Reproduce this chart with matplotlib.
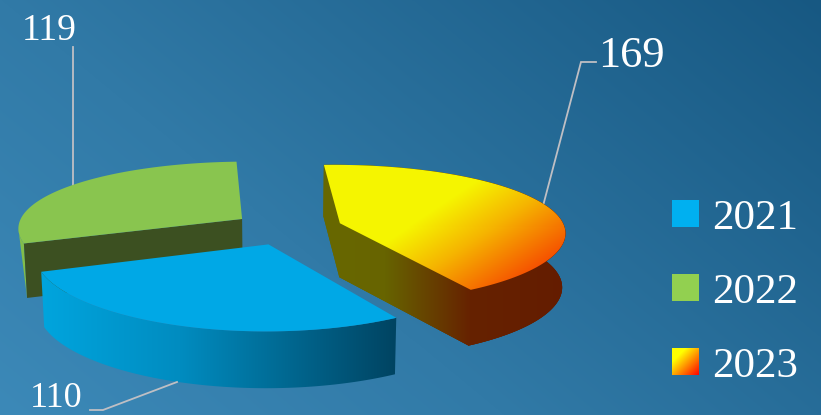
import numpy as np
import matplotlib
matplotlib.use("Agg")
import matplotlib.pyplot as plt
from matplotlib.patches import Polygon, Rectangle

categories = ["2021", "2022", "2023"]
values = [110, 119, 169]
value_labels = ["110", "119", "169"]

W, H = 821, 415
CX, CY = 287.5, 228    # pie centre on screen
SX, SY = 225, 68.5     # radius scales
PERSP_X = 0.12
PERSP_Y = 0.15
EXPLODE = 0.245
DEPTH = 54
DEPTH_PERSP = 0.04
BOTTOM_SHRINK = 0.988
START = 93.0
FONT = "Liberation Serif"

plt.rcParams["font.family"] = FONT
fig = plt.figure(figsize=(W / 100, H / 100), dpi=100)
ax = fig.add_axes([0, 0, 1, 1])
ax.set_axis_off()


def project(x, y, bottom=False):
    px = SX * x / (1 + PERSP_X * y)
    py = CY - SY * y / (1 + PERSP_Y * y)
    if bottom:
        return CX + px * BOTTOM_SHRINK, py + DEPTH / (1 + DEPTH_PERSP * y)
    return CX + px, py


def grad_fill(points, rgb_func, zorder):
    pts = np.asarray(points)
    x0, y0 = np.floor(pts.min(axis=0)) - 1
    x1, y1 = np.ceil(pts.max(axis=0)) + 1
    xs, ys = np.meshgrid(np.arange(x0, x1) + .5, np.arange(y0, y1) + .5)
    img = np.clip(rgb_func(xs, ys), 0, 255) / 255
    im = ax.imshow(img, extent=(x0, x1, y1, y0), zorder=zorder, aspect="auto", interpolation="nearest")
    p = Polygon(pts, closed=True, transform=ax.transData, fc="none", ec="none")
    ax.add_patch(p)
    im.set_clip_path(p)


def ramp(v, stops):
    pos = [s[0] for s in stops]
    return np.dstack([np.interp(v, pos, [s[1][i] for s in stops]) for i in range(3)])


def rgb(r, g, b):
    return (r / 255, g / 255, b / 255)


# background
grad_fill([(0, 0), (W, 0), (W, H), (0, H)],
          lambda x, y: ramp((x / W) * .62 + (1 - y / H) * .38,
                            [(0, (60, 137, 184)), (.38, (49, 122, 167)), (1, (23, 88, 130))]), 0)

# slice geometry from the values
total = sum(values)
spans = {}
a = START
for name, v in zip(["2022", "2021", "2023"], [values[1], values[0], values[2]]):
    spans[name] = (a, a + 360 * v / total)
    a += 360 * v / total


def slice_geom(name):
    a0, a1 = spans[name]
    mid = np.radians((a0 + a1) / 2)
    ox, oy = EXPLODE * np.cos(mid), EXPLODE * np.sin(mid)
    t = np.radians(np.linspace(a0, a1, 200))
    wx, wy = ox + np.cos(t), oy + np.sin(t)
    top = np.column_stack(project(wx, wy))
    bot = np.column_stack(project(wx, wy, True))
    return top, bot, np.array(project(ox, oy)), np.array(project(ox, oy, True))


def wall(top, bot):
    return np.vstack([top, bot[::-1]])


# 2022
top, bot, at, ab = slice_geom("2022")
k = int(np.argmin(top[:, 0]))
ax.add_patch(Polygon(np.vstack([top[k:], bot[-1]]), fc=rgb(130, 190, 75), ec="none", zorder=2))
ax.add_patch(Polygon([at, top[-1], bot[-1], ab], fc=rgb(60, 80, 33), ec="none", zorder=2.1))
ax.add_patch(Polygon(np.vstack([[at], top]), fc=rgb(137, 197, 79), ec="none", zorder=2.2))

# 2023: wall and both cut faces as one outline, so no seam shows between them
top, bot, at, ab = slice_geom("2023")
side = lambda x, y: ramp(x, [(340, (103, 103, 0)), (385, (103, 100, 0)), (470, (102, 34, 0)), (570, (100, 28, 0))])
grad_fill(np.vstack([[at], top[::-1], [top[0]], bot[:1], [ab], [at], [ab], bot[::-1][:1], bot[::-1]]), side, 3)
grad_fill(np.vstack([[at], top[:1], bot[:1], [ab]]), side, 3)
grad_fill(np.vstack([[at], bot[-1:], bot[::-1], bot[:1], [ab]]), side, 3)
grad_fill(np.vstack([[at], top[-1:], bot[-1:], [ab]]), side, 3)
grad_fill(wall(top, bot), side, 3)
grad_fill(np.vstack([top[-30:], bot[-30:][::-1], [ab], [at]]), side, 3)
grad_fill(np.vstack([[at], top]),
          lambda x, y: ramp(x + 1.5 * y, [(750, (245, 245, 0)), (835, (245, 180, 0)), (950, (245, 70, 0))]), 3.2)

# 2021
top, bot, at, ab = slice_geom("2021")
grad_fill(wall(top, bot),
          lambda x, y: ramp(x, [(41, (0, 165, 222)), (180, (0, 140, 192)), (395, (0, 68, 98))]), 4)
ax.add_patch(Polygon(np.vstack([[at], top]), fc=rgb(0, 168, 230), ec="none", zorder=4.2))

# leader lines
line_style = dict(color=(.75, .75, .77), lw=1.3, solid_joinstyle="miter")
ax.plot([73, 73], [47, 186], zorder=1.5, **line_style)
ax.plot([596, 581, 543], [62, 62, 206], zorder=1.5, **line_style)
ax.plot([90, 103, 177], [410, 410, 382], zorder=5, **line_style)

# data labels
ax.text(22, 40, value_labels[1], color="white", fontsize=27, zorder=6)
ax.text(598, 67, value_labels[2], color="white", fontsize=32, zorder=6)
ax.text(30, 407, value_labels[0], color="white", fontsize=26, zorder=6)

# legend
ax.add_patch(Rectangle((672, 200), 27, 27, fc=rgb(0, 176, 240), ec="none", zorder=6))
ax.add_patch(Rectangle((672, 274), 27, 27, fc=rgb(146, 208, 80), ec="none", zorder=6))
pts = [(672, 348), (699, 348), (699, 375), (672, 375)]
grad_fill(pts, lambda x, y: ramp(x + y - 672 - 348, [(14, (255, 255, 0)), (54, (255, 0, 0))]), 6)
for name, yy in zip(categories, [229, 303, 377]):
    ax.text(712, yy, name, color="white", fontsize=31, zorder=6)

ax.set_xlim(0, W)
ax.set_ylim(H, 0)
fig.savefig("out.png", dpi=100)
